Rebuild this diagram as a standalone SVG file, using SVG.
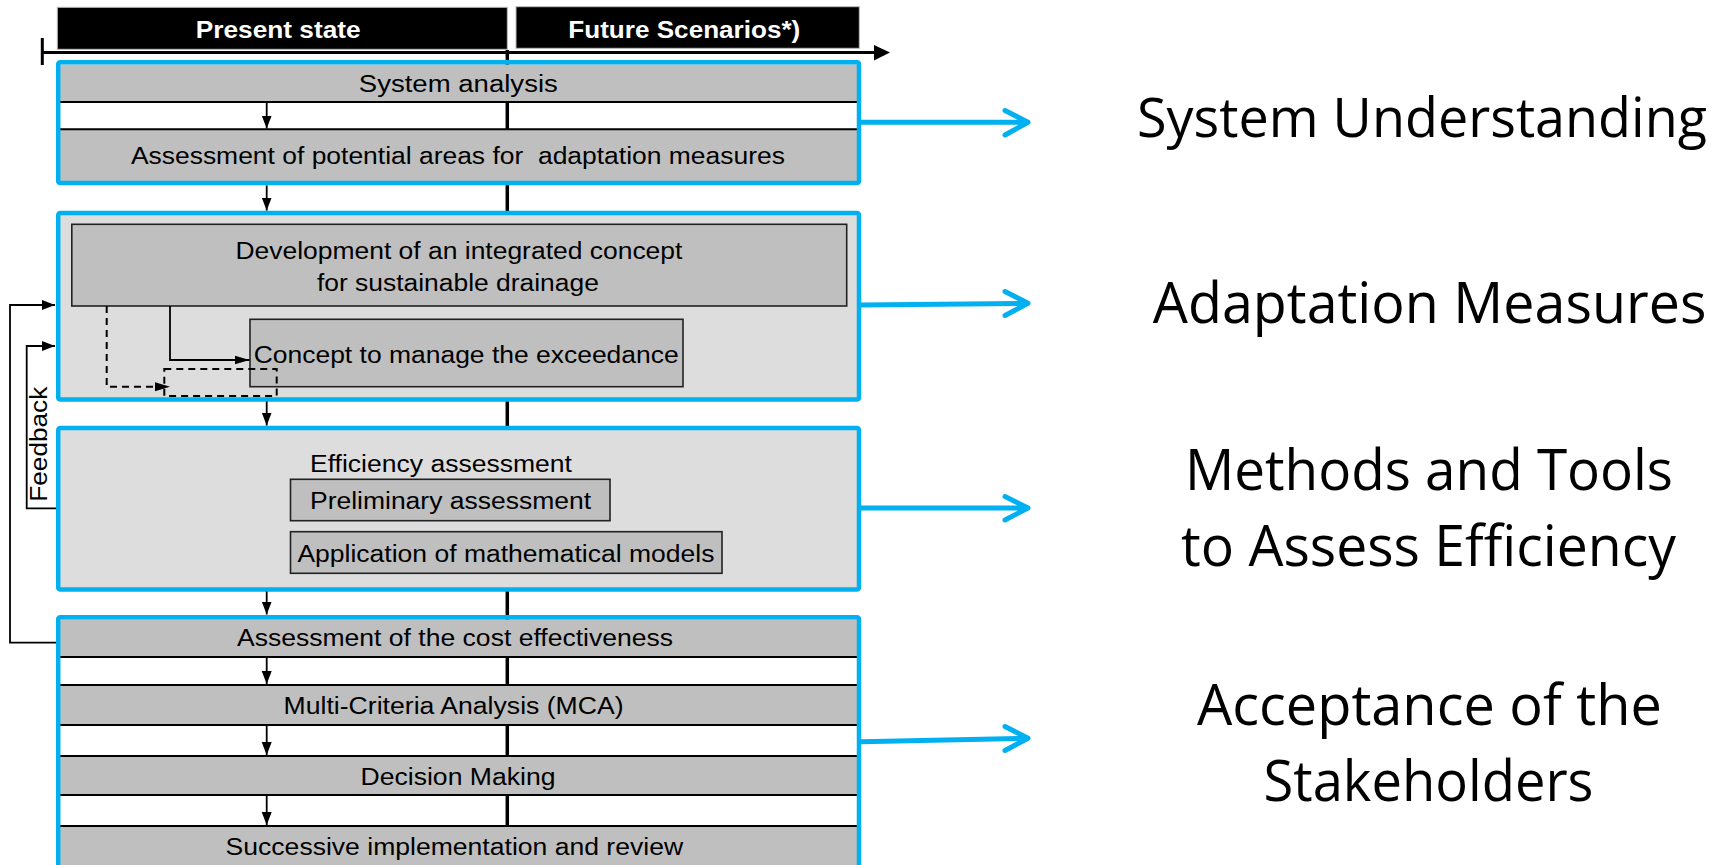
<svg xmlns="http://www.w3.org/2000/svg" width="1735" height="865" viewBox="0 0 1735 865">
<style>
.hdr{fill:#000;stroke:#bbb;stroke-width:1}
.htxt{font-family:"Liberation Sans",Arial,sans-serif;font-weight:bold;font-size:24px;fill:#fff}
.blue{fill:none;stroke:#00B0F0;stroke-width:4.5}
.bluef{fill:#DDDDDD;stroke:#00B0F0;stroke-width:4.5}
.band{fill:#BFBFBF;stroke:none}
.sep{stroke:#000;stroke-width:2}
.inner{fill:#BFBFBF;stroke:#222;stroke-width:1.6}
.t{font-family:"Liberation Sans",Arial,sans-serif;font-size:23.5px;fill:#000}
.big{font-family:"Open Sans","Noto Sans",sans-serif;font-size:57px;fill:#000;text-anchor:middle;font-variant-ligatures:none}
.conn{fill:none;stroke:#000;stroke-width:1.8}
.dash{fill:none;stroke:#000;stroke-width:2;stroke-dasharray:7 5}
.barrow{fill:none;stroke:#00B0F0;stroke-width:5;stroke-linecap:round;stroke-linejoin:round}
</style>
<defs>
<marker id="ah" markerUnits="userSpaceOnUse" markerWidth="14" markerHeight="12" viewBox="0 0 14 12" refX="13" refY="6" orient="auto">
<path d="M0,1 L13,6 L0,11 z" fill="#000"/>
</marker>
<marker id="ah2" markerUnits="userSpaceOnUse" markerWidth="16" markerHeight="12" viewBox="0 0 16 12" refX="15" refY="6" orient="auto">
<path d="M0,1.5 L15,6 L0,10.5 z" fill="#000"/>
</marker>
</defs>

<rect width="1735" height="865" fill="#fff"/>

<!-- time axis and centre line -->
<g id="axis">
<line x1="507.3" y1="50" x2="507.3" y2="865" stroke="#000" stroke-width="3.5"/>
<line x1="42.3" y1="52.5" x2="876" y2="52.5" stroke="#000" stroke-width="3"/>
<line x1="42.3" y1="38" x2="42.3" y2="65" stroke="#000" stroke-width="3"/>
<path d="M874,45 L890,52.5 L874,60.5 z" fill="#000"/>
</g>

<g id="header-present">
<rect class="hdr" x="57.3" y="7.3" width="450" height="42"/>
<text class="htxt" x="195.7" y="37.7" textLength="165" lengthAdjust="spacingAndGlyphs">Present state</text>
</g>
<g id="header-future">
<rect class="hdr" x="516" y="6.7" width="343.3" height="41.6"/>
<text class="htxt" x="568.3" y="37.7" textLength="232" lengthAdjust="spacingAndGlyphs">Future Scenarios*)</text>
</g>

<!-- Box 1 -->
<g id="box-system">
<rect class="band" x="60" y="64.5" width="797" height="37.5"/>
<rect class="band" x="60" y="129.3" width="797" height="53"/>
<line class="sep" x1="60" y1="102" x2="857" y2="102"/>
<line class="sep" x1="60" y1="129.3" x2="857" y2="129.3"/>
<rect class="blue" x="58.2" y="62.3" width="800.8" height="120.8" rx="2"/>
</g>
<g id="node-system-analysis">
<text class="t" x="358.8" y="91.9" textLength="199" lengthAdjust="spacingAndGlyphs">System analysis</text>
</g>
<g id="node-potential-areas">
<text class="t" x="130.9" y="164" textLength="654" lengthAdjust="spacingAndGlyphs" xml:space="preserve">Assessment of potential areas for  adaptation measures</text>
</g>

<!-- Box 2 -->
<g id="box-adaptation">
<rect class="bluef" x="58.2" y="213" width="800.8" height="186.5" rx="2"/>
</g>
<g id="node-development">
<rect class="inner" x="71.8" y="224.3" width="774.9" height="81.7"/>
<text class="t" x="235.4" y="259.3" textLength="447" lengthAdjust="spacingAndGlyphs">Development of an integrated concept</text>
<text class="t" x="316.9" y="290.7" textLength="282" lengthAdjust="spacingAndGlyphs">for sustainable drainage</text>
</g>
<g id="node-exceedance">
<rect class="inner" x="250" y="319.3" width="433" height="67.4"/>
<text class="t" x="253.7" y="363.3" textLength="425" lengthAdjust="spacingAndGlyphs">Concept to manage the exceedance</text>
</g>

<!-- Box 3 -->
<g id="box-efficiency">
<rect class="bluef" x="58.2" y="428" width="800.8" height="161.5" rx="2"/>
<text class="t" x="310" y="471.7" textLength="262" lengthAdjust="spacingAndGlyphs">Efficiency assessment</text>
</g>
<g id="node-preliminary">
<rect class="inner" x="290.5" y="479.3" width="319.5" height="41.4"/>
<text class="t" x="310" y="509" textLength="281" lengthAdjust="spacingAndGlyphs">Preliminary assessment</text>
</g>
<g id="node-models">
<rect class="inner" x="290.5" y="531.7" width="431.5" height="41.6"/>
<text class="t" x="297.4" y="561.7" textLength="417" lengthAdjust="spacingAndGlyphs">Application of mathematical models</text>
</g>

<!-- Box 4 -->
<g id="box-acceptance">
<rect class="band" x="60" y="619.3" width="797" height="37.7"/>
<rect class="band" x="60" y="685" width="797" height="40"/>
<rect class="band" x="60" y="756" width="797" height="39"/>
<rect class="band" x="60" y="826" width="797" height="45"/>
<line class="sep" x1="60" y1="657" x2="857" y2="657"/>
<line class="sep" x1="60" y1="685" x2="857" y2="685"/>
<line class="sep" x1="60" y1="725" x2="857" y2="725"/>
<line class="sep" x1="60" y1="756" x2="857" y2="756"/>
<line class="sep" x1="60" y1="795" x2="857" y2="795"/>
<line class="sep" x1="60" y1="826" x2="857" y2="826"/>
<rect class="blue" x="58.2" y="617.3" width="800.8" height="270" rx="2"/>
</g>
<g id="node-cost">
<text class="t" x="237" y="646.4" textLength="436" lengthAdjust="spacingAndGlyphs">Assessment of the cost effectiveness</text>
</g>
<g id="node-mca">
<text class="t" x="283.6" y="714" textLength="340" lengthAdjust="spacingAndGlyphs">Multi-Criteria Analysis (MCA)</text>
</g>
<g id="node-decision">
<text class="t" x="360.5" y="784.5" textLength="195" lengthAdjust="spacingAndGlyphs">Decision Making</text>
</g>
<g id="node-implementation">
<text class="t" x="225.6" y="854.5" textLength="457.5" lengthAdjust="spacingAndGlyphs">Successive implementation and review</text>
</g>

<!-- right labels -->
<g id="label-understanding"><text class="big" x="1422" y="137.3" font-size="54" textLength="570" lengthAdjust="spacingAndGlyphs" style="font-size:54px">System Understanding</text></g>
<g id="label-measures"><text class="big" x="1429.6" y="323.3" textLength="553.6" lengthAdjust="spacingAndGlyphs">Adaptation Measures</text></g>
<g id="label-methods">
<text class="big" x="1429" y="490" textLength="488" lengthAdjust="spacingAndGlyphs">Methods and Tools</text>
<text class="big" x="1428.5" y="566" textLength="495" lengthAdjust="spacingAndGlyphs">to Assess Efficiency</text>
</g>
<g id="label-acceptance">
<text class="big" x="1429.4" y="725" textLength="465" lengthAdjust="spacingAndGlyphs">Acceptance of the</text>
<text class="big" x="1428.5" y="800.7" textLength="330" lengthAdjust="spacingAndGlyphs">Stakeholders</text>
</g>

<!-- connectors -->
<g id="connectors">
<line class="conn" x1="266.7" y1="102" x2="266.7" y2="128.5" marker-end="url(#ah)"/>
<line class="conn" x1="266.7" y1="185.5" x2="266.7" y2="210.5" marker-end="url(#ah)"/>
<line class="conn" x1="266.7" y1="401.5" x2="266.7" y2="425.5" marker-end="url(#ah)"/>
<line class="conn" x1="266.7" y1="591.5" x2="266.7" y2="614.5" marker-end="url(#ah)"/>
<line class="conn" x1="266.7" y1="657" x2="266.7" y2="684" marker-end="url(#ah)"/>
<line class="conn" x1="266.7" y1="725" x2="266.7" y2="755" marker-end="url(#ah)"/>
<line class="conn" x1="266.7" y1="795" x2="266.7" y2="825" marker-end="url(#ah)"/>
<path class="conn" d="M170,306 V360 H249.5" marker-end="url(#ah2)"/>
<path class="dash" d="M106.7,306 V386.7 H170" marker-end="url(#ah2)"/>
<rect class="dash" x="164.3" y="369" width="112.4" height="27"/>
<path class="conn" d="M56,642.7 H10 V305 H55" marker-end="url(#ah)"/>
<path class="conn" d="M56,508.3 H26.7 V346 H55" marker-end="url(#ah)"/>
<text class="t" transform="translate(46.7,501.7) rotate(-90)" x="0" y="0" textLength="115" lengthAdjust="spacingAndGlyphs">Feedback</text>
<path class="barrow" d="M861,122.3 H1027 M1005,110.5 L1028,122.3 L1005,135"/>
<path class="barrow" d="M861,305 L1027,303.3 M1005,291.5 L1028,303.3 L1005,315.5"/>
<path class="barrow" d="M861,508 H1027 M1005,496.5 L1028,508 L1005,520"/>
<path class="barrow" d="M861,741.7 L1027,738.3 M1005,726.5 L1028,738.3 L1005,750.5"/>
</g>
</svg>
